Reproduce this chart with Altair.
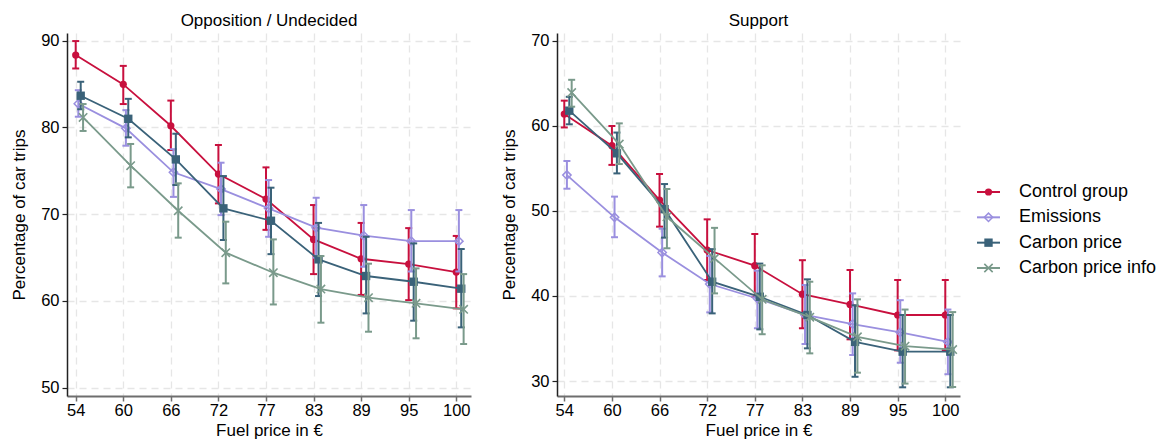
import json
import altair as alt
import pandas as pd

price_labels = ["54", "60", "66", "72", "77", "83", "89", "95", "100"]
series = ["Control group", "Emissions", "Carbon price", "Carbon price info"]
colors = ["#C8103E", "#9A8FDF", "#3A6279", "#7A9A8B"]
dodge = [0.0, 0.055, 0.105, 0.155]

# Opposition / Undecided panel
opp_mean = {
    "Control group": [88.35, 84.97, 80.2, 74.63, 71.75, 67.1, 64.87, 64.26, 63.34],
    "Emissions": [82.74, 79.9, 74.83, 72.9, 70.68, 68.45, 67.53, 66.9, 66.9],
    "Carbon price": [83.66, 81.0, 76.32, 70.68, 69.25, 64.8, 62.88, 62.22, 61.42],
    "Carbon price info": [81.16, 75.6, 70.4, 65.57, 63.26, 61.38, 60.38, 59.73, 59.04],
}
opp_lo = {
    "Control group": [86.8, 82.7, 77.4, 71.25, 68.2, 63.1, 60.7, 60.1, 59.15],
    "Emissions": [81.24, 77.9, 72.0, 69.9, 67.4, 64.99, 63.95, 63.4, 63.4],
    "Carbon price": [82.1, 78.86, 73.37, 67.03, 65.4, 60.57, 58.57, 57.73, 56.96],
    "Carbon price info": [79.6, 73.1, 67.3, 62.03, 59.6, 57.5, 56.46, 55.7, 55.04],
}
opp_hi = {
    "Control group": [89.96, 87.1, 83.1, 77.98, 75.4, 71.06, 69.0, 68.4, 67.5],
    "Emissions": [84.3, 82.0, 77.5, 75.94, 73.94, 71.9, 71.06, 70.48, 70.48],
    "Carbon price": [85.27, 83.3, 79.28, 74.4, 73.06, 69.0, 67.4, 66.64, 65.99],
    "Carbon price info": [82.7, 78.1, 73.56, 69.14, 67.1, 65.18, 64.3, 63.76, 63.1],
}

# Support panel
sup_mean = {
    "Control group": [61.38, 57.66, 51.27, 45.4, 43.56, 40.2, 39.0, 37.76, 37.76],
    "Emissions": [54.2, 49.24, 45.1, 41.4, 39.7, 37.76, 36.7, 35.72, 34.6],
    "Carbon price": [61.77, 56.76, 50.2, 41.67, 39.9, 37.76, 34.6, 33.45, 33.45],
    "Carbon price info": [63.9, 57.85, 49.3, 44.42, 39.6, 37.5, 35.2, 34.1, 33.7],
}
sup_lo = {
    "Control group": [59.8, 55.4, 48.14, 41.87, 39.9, 36.2, 34.9, 33.6, 33.6],
    "Emissions": [52.6, 46.9, 42.3, 38.07, 36.2, 34.35, 33.06, 32.15, 30.8],
    "Carbon price": [60.17, 54.4, 46.85, 37.95, 36.07, 33.84, 30.5, 29.26, 29.26],
    "Carbon price info": [62.24, 55.5, 45.6, 40.3, 35.5, 33.25, 30.98, 29.7, 29.3],
}
sup_hi = {
    "Control group": [62.95, 59.97, 54.33, 49.0, 47.28, 44.2, 43.05, 41.87, 41.87],
    "Emissions": [55.86, 51.67, 47.9, 44.7, 42.97, 41.28, 40.3, 39.5, 38.4],
    "Carbon price": [63.4, 59.2, 53.15, 45.5, 43.8, 41.95, 38.9, 37.76, 37.76],
    "Carbon price info": [65.4, 60.28, 52.57, 48.0, 43.6, 41.67, 39.6, 38.4, 38.1],
}

FONT = "Liberation Sans"


def make_df(mean, lo, hi):
    rows = []
    for k, s in enumerate(series):
        for i in range(len(price_labels)):
            rows.append({"series": s, "idx": i, "x": i + dodge[k],
                         "y": mean[s][i], "lo": lo[s][i], "hi": hi[s][i]})
    return pd.DataFrame(rows)


label_expr = "%s[datum.value]" % json.dumps(price_labels)

markers = {
    "Control group": dict(shape="circle", filled=True, size=52),
    "Emissions": dict(shape="diamond", filled=False, size=70, strokeWidth=1.5),
    "Carbon price": dict(shape="square", filled=True, size=70),
    "Carbon price info": dict(shape="M-1,-1L1,1M1,-1L-1,1", filled=False, size=70, strokeWidth=1.6),
}


def panel(df, title, ydom, yticks, xdom, width):
    xaxis = alt.Axis(values=list(range(len(price_labels))), labelExpr=label_expr,
                     title="Fuel price in €", domainColor="#6E6E6E", domainWidth=2,
                     tickColor="#6E6E6E", tickWidth=1.5)
    yaxis = alt.Axis(values=yticks, title="Percentage of car trips", domainColor="#222222",
                     domainWidth=1.5, tickColor="#222222", tickWidth=1.2)
    xs = alt.Scale(domain=xdom, nice=False, zero=False)
    ys = alt.Scale(domain=ydom, nice=False, zero=False)
    base = alt.Chart(df)
    layers = []
    for k, s in enumerate(series):
        c = colors[k]
        b = base.transform_filter(alt.datum.series == s)
        X = alt.X("x:Q", scale=xs, axis=xaxis)
        rule = b.mark_rule(color=c, strokeWidth=2).encode(
            x=X, y=alt.Y("lo:Q", scale=ys, axis=yaxis), y2="hi:Q")
        cap_lo = b.mark_point(shape="stroke", size=49, strokeWidth=2, color=c, opacity=1).encode(
            x=X, y=alt.Y("lo:Q", scale=ys, axis=yaxis))
        cap_hi = b.mark_point(shape="stroke", size=49, strokeWidth=2, color=c, opacity=1).encode(
            x=X, y=alt.Y("hi:Q", scale=ys, axis=yaxis))
        line = b.mark_line(color=c, strokeWidth=1.8).encode(
            x=X, y=alt.Y("y:Q", scale=ys, axis=yaxis), order="idx:Q")
        m = markers[s]
        pt = b.mark_point(color=c, opacity=1, **m).encode(
            x=X, y=alt.Y("y:Q", scale=ys, axis=yaxis))
        layers += [rule, cap_lo, cap_hi, line, pt]
    return alt.layer(*layers).properties(
        width=width, height=363,
        title=alt.Title(title, font=FONT, fontSize=17, fontWeight="normal",
                        color="black", anchor="middle", offset=3),
    )


left = panel(make_df(opp_mean, opp_lo, opp_hi), "Opposition / Undecided",
             [49.05, 90.89], [50, 60, 70, 80, 90], [-0.183, 8.31], 404)
right = panel(make_df(sup_mean, sup_lo, sup_hi), "Support",
              [28.24, 70.9], [30, 40, 50, 60, 70], [-0.153, 8.309], 403)

# Manual legend (line through marker, as in the original)
leg_df = pd.DataFrame({"series": series, "rank": list(range(len(series)))})
leg_y = alt.Y("rank:Q", scale=alt.Scale(domain=[0, 3], range=[159, 235], nice=False, zero=False),
              axis=None)
leg_base = alt.Chart(leg_df)
leg_layers = []
for k, s in enumerate(series):
    c = colors[k]
    b = leg_base.transform_filter(alt.datum.series == s)
    leg_layers.append(b.mark_rule(color=c, strokeWidth=2).encode(
        x=alt.value(0), x2=alt.value(23), y=leg_y))
    leg_layers.append(b.mark_point(color=c, opacity=1, **markers[s]).encode(
        x=alt.value(11.5), y=leg_y))
leg_layers.append(leg_base.mark_text(align="left", baseline="middle", font=FONT,
                                     fontSize=18, color="black").encode(
    x=alt.value(42), y=leg_y, text="series:N"))
legend = alt.layer(*leg_layers).properties(width=170, height=363)

chart = alt.hconcat(alt.hconcat(left, right, spacing=28), legend, spacing=15).configure_view(
    stroke=None
).configure_axis(
    labelFont=FONT, titleFont=FONT, labelFontSize=16.5, titleFontSize=17,
    labelColor="black", titleColor="black", titleFontWeight="normal",
    grid=True, gridColor="#E6E6E6", gridDash=[7, 5], gridWidth=1.3,
    tickSize=5, labelPadding=3,
).configure_axisX(titlePadding=4, labelPadding=1).configure_axisY(titlePadding=12).properties(
    padding={"left": 10, "top": 11, "right": 5, "bottom": 5},
    background="white",
)

chart.save("out.html", embed_options={"renderer": "svg", "actions": False})
